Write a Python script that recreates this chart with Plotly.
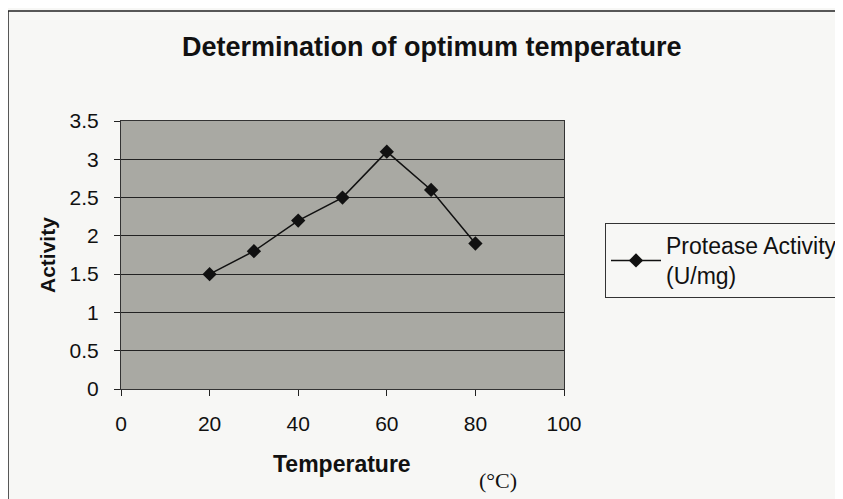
import plotly.graph_objects as go

temperature = [20, 30, 40, 50, 60, 70, 80]
activity = [1.5, 1.8, 2.2, 2.5, 3.1, 2.6, 1.9]
x_ticks = [0, 20, 40, 60, 80, 100]
y_ticks = [0, 0.5, 1, 1.5, 2, 2.5, 3, 3.5]
series_name = "Protease Activity<br>(U/mg)"

OFF = 8  # page body margin
W, H = 843 - OFF, 499 - OFF
L, R, T, B = 113, 279, 113, 110
pw, ph = W - L - R, H - T - B

def px(x):  # screen x -> paper
    return (x - OFF - L) / pw

def py(y):  # screen y -> paper
    return (H - B - (y - OFF)) / ph

fig = go.Figure()
fig.add_trace(go.Scatter(
    x=temperature, y=activity, mode="lines+markers", name=series_name,
    line=dict(color="#111111", width=1.5),
    marker=dict(symbol="diamond", size=11, color="#111111"),
))

font = "Liberation Sans, Arial, sans-serif"
fig.update_layout(
    width=W, height=H,
    margin=dict(l=L, r=R, t=T, b=B, autoexpand=False),
    paper_bgcolor="#f7f7f5",
    plot_bgcolor="#a9a9a3",
    font=dict(family=font, size=21, color="#111111"),
    showlegend=True,
    legend=dict(
        x=px(605), y=py(223), xanchor="left", yanchor="top",
        bgcolor="rgba(0,0,0,0)", bordercolor="#333333", borderwidth=1,
        font=dict(size=23), itemwidth=50, tracegroupgap=0,
    ),
    xaxis=dict(
        range=[0, 100], tickvals=x_ticks, ticks="outside", ticklen=6,
        tickcolor="#222222", showgrid=False, zeroline=False,
        showline=True, linecolor="#333333", linewidth=1, mirror=True,
        ticklabelstandoff=10, tickfont=dict(size=21),
    ),
    yaxis=dict(
        range=[0, 3.5], tickvals=y_ticks, ticks="outside", ticklen=6,
        tickcolor="#222222", showgrid=True, gridcolor="#222222", gridwidth=1,
        zeroline=False, showline=True, linecolor="#333333", linewidth=1,
        mirror=True, ticklabelstandoff=11, tickfont=dict(size=21),
    ),
    annotations=[
        dict(text="<b>Determination of optimum temperature</b>", x=px(432), y=py(47),
             xref="paper", yref="paper", showarrow=False, font=dict(size=27),
             xanchor="center", yanchor="middle"),
        dict(text="<b>Activity</b>", x=px(47), y=py(255), textangle=-90,
             xref="paper", yref="paper", showarrow=False, font=dict(size=21),
             xanchor="center", yanchor="middle"),
        dict(text="<b>Temperature</b>", x=px(342), y=py(464),
             xref="paper", yref="paper", showarrow=False, font=dict(size=23),
             xanchor="center", yanchor="middle"),
        dict(text="(°C)", x=px(498), y=py(481),
             xref="paper", yref="paper", showarrow=False,
             font=dict(size=22, family="Liberation Serif, Times New Roman, serif"),
             xanchor="center", yanchor="middle"),
    ],
    shapes=[
        dict(type="line", xref="paper", yref="paper",
             x0=px(8), x1=px(8), y0=py(520), y1=py(11),
             line=dict(color="#222222", width=1.5), layer="below"),
        dict(type="line", xref="paper", yref="paper",
             x0=px(8), x1=px(900), y0=py(11), y1=py(11),
             line=dict(color="#222222", width=1.5), layer="below"),
    ],
)

fig.write_html("out.html")
